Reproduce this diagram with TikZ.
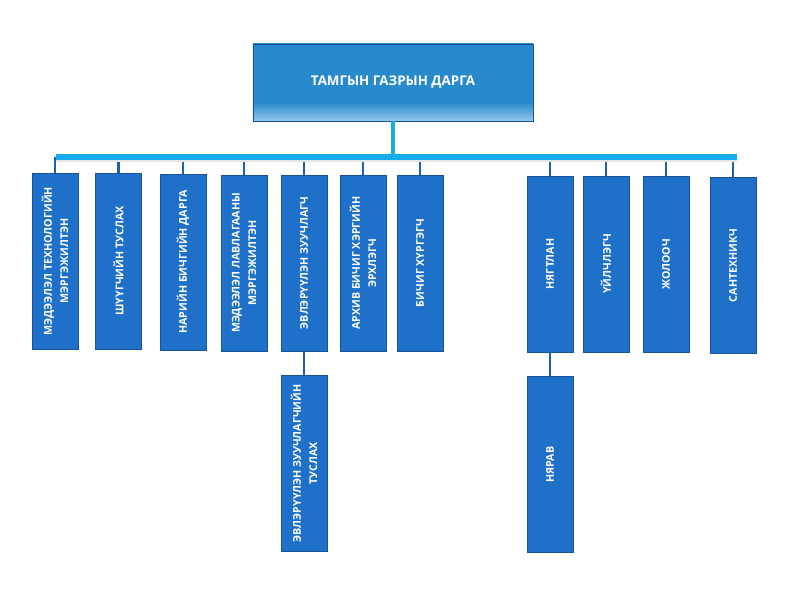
\documentclass[tikz,border=0pt]{standalone}
\usepackage{fontspec}
\setmainfont{Open Sans}
\usepackage{tikz}
\usepackage{xcolor}

\definecolor{boxblue}{RGB}{31,112,200}
\definecolor{boxline}{RGB}{24,82,158}
\definecolor{topblue}{RGB}{40,138,202}
\definecolor{topfade}{RGB}{150,200,236}
\definecolor{barcyan}{RGB}{22,172,234}
\definecolor{linkblue}{RGB}{30,96,172}

\pgfdeclareverticalshading{headfade}{100bp}{color(0bp)=(topfade); color(25bp)=(topfade);
  color(37bp)=(topblue); color(75bp)=(topblue); color(100bp)=(topblue)}

\tikzset{
  post/.style={draw=boxline, fill=boxblue, line width=0.6pt, text=white, rotate=90,
    minimum width=5.28cm, minimum height=1.38cm, inner sep=0pt, align=center,
    font=\fontsize{9.1}{14}\selectfont\bfseries},
  link/.style={draw=linkblue, line width=2pt},
}

\begin{document}
\begin{tikzpicture}[x=0.03cm,y=-0.03cm]
\useasboundingbox (0,0) rectangle (788,594);

\node[draw=boxline, line width=0.5pt, minimum width=8.4cm, minimum height=2.31cm, shading=headfade,
  text=white, font=\fontsize{11.4}{13}\selectfont\bfseries] (head) at (393,82.5) {ТАМГЫН ГАЗРЫН ДАРГА};

\coordinate (barL) at (56,157);
\coordinate (barR) at (737,157);

\node[post] (m1) at (55,261) {МЭДЭЭЛЭЛ ТЕХНОЛОГИЙН\\МЭРГЭЖИЛТЭН};
\node[post] (m2) at (118.5,261) {ШҮҮГЧИЙН ТУСЛАХ};
\node[post] (m3) at (183,262) {НАРИЙН БИЧГИЙН ДАРГА};
\node[post] (m4) at (244,263) {МЭДЭЭЛЭЛ ЛАВЛАГААНЫ\\МЭРГЭЖИЛТЭН};
\node[post] (m5) at (304,263) {ЭВЛЭРҮҮЛЭН ЗУУЧЛАГЧ};
\node[post] (m6) at (363,263) {АРХИВ БИЧИГ ХЭРГИЙН\\ЭРХЛЭГЧ};
\node[post] (m7) at (420,263) {БИЧИГ ХҮРГЭГЧ};
\node[post] (m8) at (550,264) {НЯГТЛАН};
\node[post] (m9) at (606,264) {ҮЙЛЧЛЭГЧ};
\node[post] (m10) at (666,264.5) {ЖОЛООЧ};
\node[post] (m11) at (733,265.5) {САНТЕХНИКЧ};

\node[post] (m5b) at (304,463.5) {ЭВЛЭРҮҮЛЭН ЗУУЧЛАГЧИЙН\\ТУСЛАХ};
\node[post] (m8b) at (550,464.5) {НЯРАВ};

\foreach \m in {m1,m2,m3,m4,m5,m6,m7,m8,m9,m10,m11}
  \draw[link] (\m.east) -- (\m.east |- barL);
\draw[link] (m5.west) -- (m5b.east);
\draw[link] (m8.west) -- (m8b.east);

\draw[gray!20, line width=2.5pt] ([yshift=-3pt]barL) -- ([yshift=-3pt]barR);
\draw[barcyan, line width=4.3pt] (barL) -- (barR);
\draw[barcyan, line width=2.6pt] (head.south) -- (head.south |- barL);

\end{tikzpicture}
\end{document}
